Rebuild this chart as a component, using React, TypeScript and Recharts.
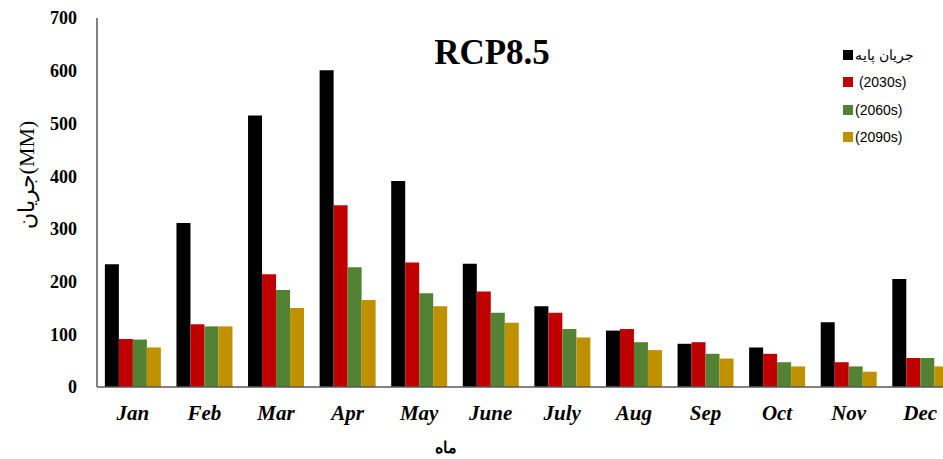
import { BarChart, Bar, XAxis, YAxis, Legend, Customized } from 'recharts'

const months = ['Jan', 'Feb', 'Mar', 'Apr', 'May', 'June', 'July', 'Aug', 'Sep', 'Oct', 'Nov', 'Dec']
const baseFlow = [233, 311, 515, 601, 391, 234, 153, 107, 82, 75, 123, 205]
const flow2030s = [91, 119, 214, 345, 236, 181, 141, 110, 85, 63, 47, 55]
const flow2060s = [90, 115, 184, 227, 178, 141, 110, 85, 63, 47, 39, 55]
const flow2090s = [75, 115, 150, 165, 153, 122, 94, 70, 54, 39, 29, 39]
const yTicks = [0, 100, 200, 300, 400, 500, 600, 700]

const seriesNames = ['جریان پایه', ' (2030s)', '(2060s)', '(2090s)']

const data = months.map((m, i) => ({
  month: m,
  base: baseFlow[i],
  s2030: flow2030s[i],
  s2060: flow2060s[i],
  s2090: flow2090s[i],
}))

const axisColor = '#595959'
const serif = '"Liberation Serif", "Times New Roman", serif'
const sans = '"Liberation Sans", Arial, sans-serif'

function LegendBox({ payload }: { payload?: Array<{ value: string; color: string }> }) {
  // keep series order (legend sorts by name otherwise)
  const items = [...(payload || [])].sort(
    (a, b) => seriesNames.indexOf(a.value) - seriesNames.indexOf(b.value)
  )
  return (
    <div style={{ fontFamily: sans, fontSize: 14, color: '#000' }}>
      {items.map((p) => (
        <div key={p.value} style={{ height: 27.5, display: 'flex', alignItems: 'center' }}>
          <span style={{ width: 10, height: 10, background: p.color, display: 'inline-block', marginRight: 2 }} />
          <span style={{ whiteSpace: 'pre' }}>{p.value}</span>
        </div>
      ))}
    </div>
  )
}

function Texts() {
  return (
    <g>
      <text x={492} y={64} textAnchor="middle" fontFamily={serif} fontWeight="bold" fontSize={35} fill="#000">
        RCP8.5
      </text>
      <text
        x={26}
        y={175}
        textAnchor="middle"
        dominantBaseline="central"
        transform="rotate(-90 26 175)"
        fontFamily={serif}
        fontSize={22}
        fill="#000"
      >
        جریان(MM)
      </text>
      <text x={446} y={453} textAnchor="middle" fontFamily={sans} fontWeight="bold" fontSize={16} fill="#000">
        ماه
      </text>
    </g>
  )
}

export default function App() {
  return (
    <div style={{ position: 'fixed', left: 0, top: 0, width: 943, height: 459, overflow: 'hidden', background: '#fff' }}>
      <BarChart
        width={1100}
        height={459}
        data={data}
        margin={{ top: 18, right: 44, bottom: 0, left: 0 }}
        barCategoryGap="11%"
        barGap={0}
      >
        <XAxis
          dataKey="month"
          height={72}
          tickLine={false}
          tickSize={0}
          tickMargin={18}
          axisLine={{ stroke: axisColor, strokeWidth: 1.5 }}
          tick={{ fill: '#000', fontFamily: serif, fontWeight: 'bold', fontStyle: 'italic', fontSize: 21 }}
        />
        <XAxis
          xAxisId="top"
          dataKey="month"
          orientation="top"
          height={0}
          tick={false}
          tickLine={false}
          axisLine={{ stroke: axisColor, strokeWidth: 1.5 }}
        />
        <YAxis
          width={97}
          domain={[0, 700]}
          ticks={yTicks}
          interval={0}
          tickLine={false}
          tickSize={0}
          tickMargin={20}
          axisLine={{ stroke: axisColor, strokeWidth: 1.5 }}
          tick={{ fill: '#000', fontFamily: serif, fontWeight: 'bold', fontSize: 18 }}
        />
        <Legend
          content={<LegendBox />}
          layout="vertical"
          verticalAlign="top"
          align="right"
          wrapperStyle={{ position: 'absolute', left: 843, top: 41, width: 100 }}
        />
        <Bar dataKey="base" name={seriesNames[0]} fill="#000000" isAnimationActive={false} />
        <Bar dataKey="s2030" name={seriesNames[1]} fill="#C00000" isAnimationActive={false} />
        <Bar dataKey="s2060" name={seriesNames[2]} fill="#548235" isAnimationActive={false} />
        <Bar dataKey="s2090" name={seriesNames[3]} fill="#BF9000" isAnimationActive={false} />
        <Customized component={Texts} />
      </BarChart>
    </div>
  )
}
